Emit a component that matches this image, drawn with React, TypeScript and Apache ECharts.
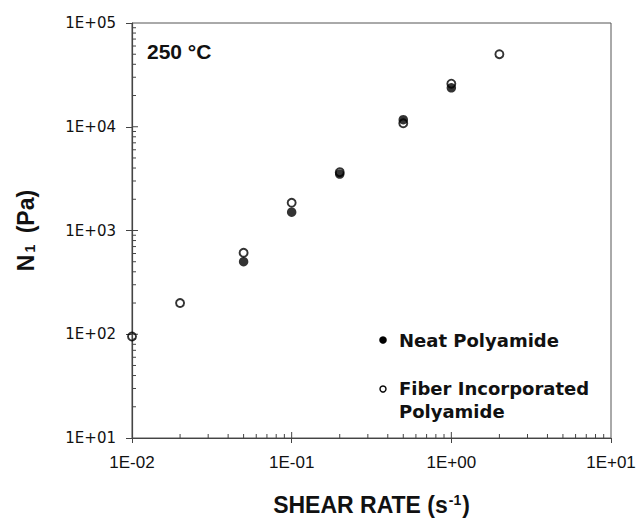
import React, { useEffect, useRef } from 'react';
import * as echarts from 'echarts';

// Data (shear rate in s^-1, N1 in Pa)
const neatShearRate = [0.05, 0.1, 0.2, 0.5, 1.0];
const neatN1 = [500, 1500, 3500, 11700, 23700];
const fiberShearRate = [0.01, 0.02, 0.05, 0.1, 0.2, 0.5, 1.0, 2.0];
const fiberN1 = [95, 200, 610, 1850, 3650, 10800, 26000, 50000];

const seriesNames = ['Neat Polyamide', 'Fiber Incorporated Polyamide'];
const legendLines = ['Neat Polyamide', 'Fiber Incorporated', 'Polyamide'];
const tempLabel = '250 °C';

// Axis ranges and tick bases
const xRange = [0.01, 10];
const yRange = [10, 100000];
const xDecadeBases = [0.01, 0.1, 1];
const yDecadeBases = [10, 100, 1000, 10000];
const minorMultipliers = [2, 3, 4, 5, 6, 7, 8, 9];

function fmtExp(v: number): string {
  const e = Math.round(Math.log10(v));
  const s = e < 0 ? '-' : '+';
  const a = Math.abs(e);
  return '1E' + s + (a < 10 ? '0' + a : String(a));
}

export default function App() {
  const ref = useRef<HTMLDivElement>(null);
  useEffect(() => {
    if (!ref.current) return;
    const chart = echarts.init(ref.current, undefined, { renderer: 'svg' });

    // inside ticks: [x, y, direction(0: on y axis, 1: on x axis), length]
    const tickData: number[][] = [];
    yDecadeBases.forEach((b, i) => {
      if (i > 0) tickData.push([xRange[0], b, 0, 6]);
      minorMultipliers.forEach((m) => tickData.push([xRange[0], b * m, 0, 4]));
    });
    xDecadeBases.forEach((b, i) => {
      if (i > 0) tickData.push([b, yRange[0], 1, 6]);
      minorMultipliers.forEach((m) => tickData.push([b * m, yRange[0], 1, 4]));
    });

    const axisColor = '#444';
    const option: any = {
      animation: false,
      backgroundColor: '#fff',
      grid: {
        left: 132,
        right: 30,
        top: 23,
        bottom: 80,
        show: true,
        borderColor: '#555',
        borderWidth: 1,
        containLabel: false,
        outerBoundsMode: 'none',
      },
      xAxis: {
        type: 'log',
        logBase: 10,
        min: xRange[0],
        max: xRange[1],
        axisLine: { show: true, lineStyle: { color: axisColor, width: 1.2 } },
        axisTick: { show: true, length: 5, lineStyle: { color: axisColor } },
        minorTick: { show: false },
        splitLine: { show: false },
        axisLabel: {
          formatter: (v: number) => fmtExp(v),
          fontFamily: 'Liberation Sans',
          fontSize: 17,
          color: '#111',
          margin: 16,
        },
        name: '{t|SHEAR RATE (s}{sup|-1}{t|)}',
        nameLocation: 'middle',
        nameGap: 55,
        nameTextStyle: {
          rich: {
            t: { fontFamily: 'Liberation Sans', fontWeight: 'bold', fontSize: 23, color: '#111' },
            sup: { fontFamily: 'Liberation Sans', fontWeight: 'bold', fontSize: 14, color: '#111', verticalAlign: 'top', padding: [0, 1, 0, 1] },
          },
        },
      },
      yAxis: {
        type: 'log',
        logBase: 10,
        min: yRange[0],
        max: yRange[1],
        axisLine: { show: true, lineStyle: { color: axisColor, width: 1.2 } },
        axisTick: { show: true, length: 6, lineStyle: { color: axisColor } },
        minorTick: { show: false },
        splitLine: { show: false },
        axisLabel: {
          formatter: (v: number) => fmtExp(v),
          fontFamily: 'DejaVu Sans',
          fontSize: 15,
          color: '#111',
          margin: 16,
        },
        name: '{t|N}{sub|1}{t| (Pa)}',
        nameLocation: 'middle',
        nameRotate: 90,
        nameGap: 95,
        nameTextStyle: {
          rich: {
            t: { fontFamily: 'Liberation Sans', fontWeight: 'bold', fontSize: 23, color: '#111' },
            sub: { fontFamily: 'Liberation Sans', fontWeight: 'bold', fontSize: 14, color: '#111', verticalAlign: 'bottom', padding: [0, 5, 0, 2] },
          },
        },
      },
      series: [
        {
          name: 'ticks',
          type: 'custom',
          silent: true,
          clip: false,
          data: tickData,
          encode: { x: 0, y: 1 },
          renderItem: (_params: any, api: any) => {
            const x = api.value(0);
            const y = api.value(1);
            const dir = api.value(2);
            const len = api.value(3);
            const p = api.coord([x, y]);
            const shape = dir === 0
              ? { x1: p[0], y1: p[1], x2: p[0] + len, y2: p[1] }
              : { x1: p[0], y1: p[1], x2: p[0], y2: p[1] - len };
            return { type: 'line', shape, style: { stroke: axisColor, lineWidth: 1 } };
          },
          z: 1,
        },
        {
          name: seriesNames[1],
          type: 'scatter',
          data: fiberShearRate.map((x, i) => [x, fiberN1[i]]),
          symbol: 'circle',
          symbolSize: 8,
          clip: false,
          itemStyle: { color: 'transparent', borderColor: '#000', borderWidth: 1.9 },
          z: 3,
        },
        {
          name: seriesNames[0],
          type: 'scatter',
          data: neatShearRate.map((x, i) => [x, neatN1[i]]),
          symbol: 'circle',
          symbolSize: 9.5,
          clip: false,
          itemStyle: { color: '#000' },
          z: 4,
        },
      ],
      graphic: [
        {
          type: 'text',
          x: 147,
          y: 51,
          style: { text: tempLabel, font: 'bold 21px "Liberation Sans"', fill: '#111', align: 'left', verticalAlign: 'middle' },
        },
        { type: 'circle', shape: { cx: 383, cy: 340, r: 3.8 }, style: { fill: '#000' } },
        { type: 'circle', shape: { cx: 383, cy: 389, r: 3 }, style: { fill: 'none', stroke: '#000', lineWidth: 1.4 } },
        {
          type: 'text', x: 399, y: 340,
          style: { text: legendLines[0], font: 'bold 18px "DejaVu Sans"', fill: '#111', align: 'left', verticalAlign: 'middle' },
        },
        {
          type: 'text', x: 399, y: 388.5,
          style: { text: legendLines[1], font: 'bold 18px "DejaVu Sans"', fill: '#111', align: 'left', verticalAlign: 'middle' },
        },
        {
          type: 'text', x: 399, y: 411.5,
          style: { text: legendLines[2], font: 'bold 18px "DejaVu Sans"', fill: '#111', align: 'left', verticalAlign: 'middle' },
        },
      ],
    };
    chart.setOption(option);
    return () => chart.dispose();
  }, []);
  return <div ref={ref} style={{ position: 'fixed', left: 0, top: 0, width: 641, height: 518 }} />;
}
